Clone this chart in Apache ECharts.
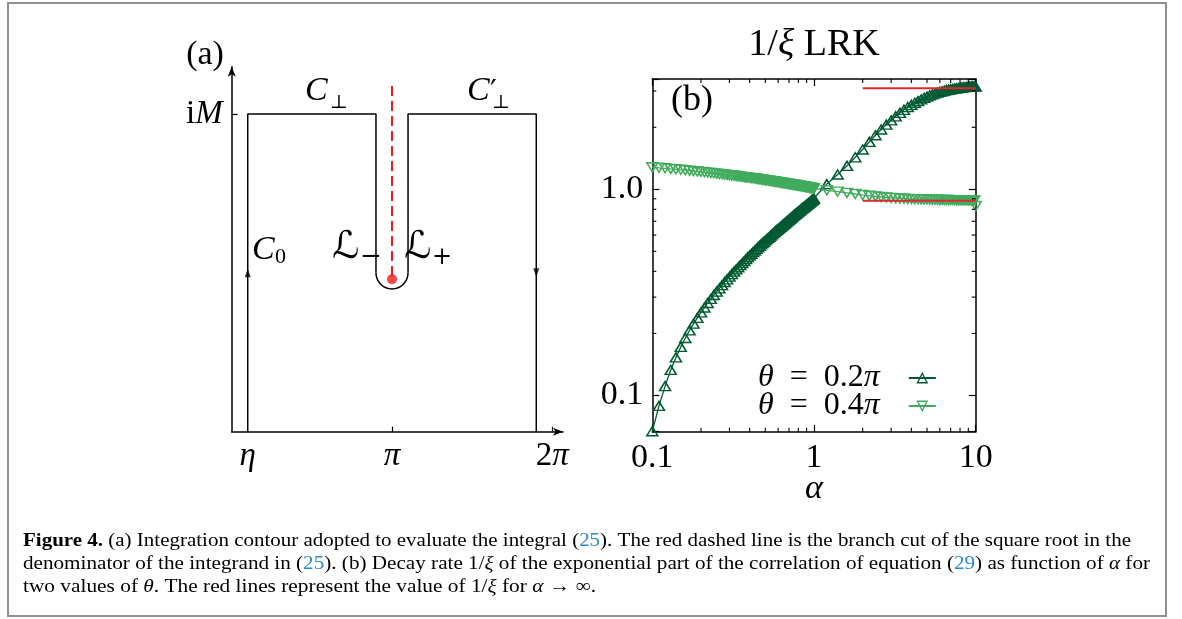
<!DOCTYPE html>
<html><head><meta charset="utf-8">
<script src="https://cdn.jsdelivr.net/npm/echarts@6/dist/echarts.min.js"></script>
<style>html,body{margin:0;padding:0;background:#fff}#c{width:1182px;height:619px}</style>
</head><body><div id="c"></div>
<script>
// ---------------- DATA ----------------
// panel (b): alpha grid and 1/xi values
const alpha = [
0.10,0.11,0.12,0.13,0.14,0.15,0.16,0.17,0.18,0.19,
0.20,0.21,0.22,0.23,0.24,0.25,0.26,0.27,0.28,0.29,
0.30,0.31,0.32,0.33,0.34,0.35,0.36,0.37,0.38,0.39,
0.40,0.41,0.42,0.43,0.44,0.45,0.46,0.47,0.48,0.49,
0.50,0.51,0.52,0.53,0.54,0.55,0.56,0.57,0.58,0.59,
0.60,0.61,0.62,0.63,0.64,0.65,0.66,0.67,0.68,0.69,
0.70,0.71,0.72,0.73,0.74,0.75,0.76,0.77,0.78,0.79,
0.80,0.81,0.82,0.83,0.84,0.85,0.86,0.87,0.88,0.89,
0.90,0.91,0.92,0.93,0.94,0.95,0.96,0.97,0.98,0.99,
1.00,
1.2,1.4,1.6,1.8,2.0,2.2,2.4,2.6,2.8,3.0,
3.2,3.4,3.6,3.8,4.0,4.2,4.4,4.6,4.8,5.0,
5.2,5.4,5.6,5.8,6.0,6.2,6.4,6.6,6.8,7.0,
7.2,7.4,7.6,7.8,8.0,8.2,8.4,8.6,8.8,9.0,
9.2,9.4,9.6,9.8,10.0];
const theta02 = [
0.067,0.089,0.111,0.133,0.153,0.172,0.190,0.207,0.223,0.238,
0.253,0.267,0.281,0.294,0.307,0.319,0.331,0.343,0.355,0.366,
0.377,0.388,0.399,0.409,0.419,0.429,0.439,0.449,0.459,0.469,
0.478,0.487,0.496,0.505,0.514,0.523,0.532,0.541,0.549,0.557,
0.565,0.573,0.581,0.589,0.597,0.605,0.613,0.621,0.629,0.636,
0.643,0.650,0.657,0.664,0.671,0.678,0.685,0.692,0.699,0.706,
0.713,0.720,0.727,0.734,0.741,0.748,0.754,0.761,0.767,0.774,
0.780,0.787,0.793,0.799,0.806,0.812,0.818,0.824,0.830,0.836,
0.842,0.848,0.854,0.860,0.866,0.872,0.878,0.884,0.890,0.896,
0.902,
1.06,1.18,1.30,1.43,1.56,1.70,1.83,1.95,2.06,2.16,
2.26,2.35,2.43,2.51,2.57,2.63,2.68,2.73,2.78,2.82,
2.86,2.89,2.92,2.95,2.97,2.99,3.01,3.03,3.05,3.06,
3.07,3.08,3.09,3.10,3.11,3.12,3.13,3.13,3.14,3.14,
3.15,3.15,3.16,3.16,3.15];
const theta04 = [
1.280,1.272,1.265,1.257,1.251,1.244,1.238,1.232,1.226,1.221,
1.216,1.211,1.206,1.201,1.196,1.192,1.187,1.183,1.179,1.175,
1.171,1.167,1.164,1.160,1.156,1.153,1.150,1.146,1.143,1.140,
1.137,1.134,1.131,1.128,1.125,1.122,1.119,1.116,1.114,1.111,
1.108,1.106,1.103,1.100,1.098,1.096,1.093,1.091,1.088,1.086,
1.084,1.082,1.079,1.077,1.075,1.073,1.071,1.068,1.066,1.064,
1.062,1.060,1.058,1.056,1.054,1.053,1.051,1.049,1.047,1.045,
1.043,1.041,1.040,1.038,1.036,1.034,1.033,1.031,1.029,1.028,
1.026,1.024,1.023,1.021,1.019,1.018,1.016,1.015,1.013,1.012,
1.010,
0.990,0.975,0.961,0.949,0.939,0.931,0.924,0.918,0.913,0.909,
0.906,0.903,0.901,0.899,0.897,0.896,0.895,0.894,0.893,0.892,
0.891,0.891,0.890,0.890,0.889,0.889,0.888,0.888,0.888,0.887,
0.887,0.887,0.886,0.886,0.886,0.886,0.885,0.885,0.885,0.885,
0.885,0.884,0.884,0.884,0.830];
// asymptotic values (alpha -> infinity)
const asymAlpha = [2, 10];
const asym02 = 3.09;
const asym04 = 0.88;
const seriesNames = ['θ = 0.2π', 'θ = 0.4π'];
// panel (b) axis ranges and ticks
const xRangeB = [0.1, 10];
const yRangeB = [0.0667, 3.43];
const xTickValues = [0.1, 1, 10];
const xTickLabels = ['0.1', '1', '10'];
const yTickValues = [0.1, 1];
const yTickLabels = ['0.1', '1.0'];
const xMinorTicks = [0.2,0.3,0.4,0.5,0.6,0.7,0.8,0.9,2,3,4,5,6,7,8,9];
const yMinorTicks = [0.2,0.3,0.4,0.5,0.6,0.7,0.8,0.9,2,3];

// panel (a): contour (x in units of pi, y in units of M)
const contourLeft = [[0.1,0],[0.1,1],[0.9,1],[0.9,0.5]];
const contourRight = [[1.1,0.5],[1.1,1],[1.9,1],[1.9,0]];
const keyhole = [[1, 0.5, 0.1]];            // centre x, centre y, radius (x units)
const branchCut = [[1,1.088],[1,0.48]];
const branchPoint = [[1,0.48]];
const arrowUp = [[0.1,0.5]];
const arrowDown = [[1.9,0.5]];
const xTickA = [1, 2];
const xLabelA = [0.1, 1, 2];
const xLabelTextA = ['{i|η}', '{i|π}', '2{i|π}'];
const yTickA = [1];

// ---------------- STYLE ----------------
const SERIF = '"Liberation Serif","Times New Roman",serif';
const SYM = '"DejaVu Serif","DejaVu Sans",serif';
const DARK = '#005a32', LIGHT = '#41ab5d', RED = '#e0282e';
const FS = 33;
const it = {fontStyle:'italic', fontFamily:SERIF, fontSize:FS, color:'#000'};

const chart = echarts.init(document.getElementById('c'), null, {renderer:'canvas'});

function lbl(val, vals, texts){
  for (let i=0;i<vals.length;i++) if (Math.abs(val-vals[i]) < 1e-6*Math.max(1,vals[i])) return texts[i];
  return '';
}

function txt(x, y, text, size, o){
  o = o || {};
  return {type:'text', x:x, y:y, silent:true, z:50,
    style:{text:text, fontSize:size, fontFamily:o.family||SERIF, fontStyle:o.italic?'italic':'normal',
      fontWeight:o.bold?'bold':'normal', fill:'#000', align:o.align||'center', verticalAlign:'middle', rich:o.rich}};
}

// caption
const capRich = {
  b:{fontWeight:'bold', fontSize:18, fontFamily:SERIF, fill:'#000'},
  c:{fontSize:18, fontFamily:SERIF, fill:'#2b8ccf'},
  i:{fontStyle:'italic', fontSize:18, fontFamily:SERIF, fill:'#000'}
};
const capLines = [
  '{b|Figure 4.} (a) Integration contour adopted to evaluate the integral ({c|25}). The red dashed line is the branch cut of the square root in the',
  'denominator of the integrand in ({c|25}). (b) Decay rate 1/{i|ξ} of the exponential part of the correlation of equation ({c|29}) as function of {i|α} for',
  'two values of {i|θ}. The red lines represent the value of 1/{i|ξ} for {i|α} → ∞.'
];
const capX = 23, capY = [541, 564, 587], capW = [1108, 1127, 573];
const capEls = capLines.map((t, k) => {
  const probe = new echarts.graphic.Text({style:{text:t, rich:capRich, fontSize:18, fontFamily:SERIF}});
  const w = probe.getBoundingRect().width || capW[k];
  return {type:'text', x:capX, y:capY[k], scaleX: capW[k]/w, scaleY:1.08, silent:true,
    style:{text:t, rich:capRich, fontSize:18, fontFamily:SERIF, fill:'#000', align:'left', verticalAlign:'middle'}};
});

const graphics = [
  {type:'rect', shape:{x:8, y:3, width:1158, height:613}, style:{fill:null, stroke:'#8f8f8f', lineWidth:2}, silent:true},
  txt(205, 55, '(a)', 34),
  txt(692, 101, '(b)', 36),
  txt(814, 45, '1/{i|ξ} LRK', 38, {rich:{i:{fontStyle:'italic', fontSize:38, fontFamily:SERIF}}}),
  // contour labels
  txt(305, 91, 'C', 34, {italic:true, align:'left'}),
  txt(330, 103, '⊥', 19, {align:'left', family:SYM}),
  txt(467, 91, 'C', 34, {italic:true, align:'left'}),
  txt(490, 93, '′', 30, {align:'left', family:SYM}),
  txt(492, 103, '⊥', 19, {align:'left', family:SYM}),
  txt(252, 250, 'C', 34, {italic:true, align:'left'}),
  txt(275, 257, '0', 22, {align:'left'}),
  txt(332, 248, 'ℒ', 38, {align:'left', family:SYM}),
  txt(371, 257, '−', 26, {family:SYM}),
  txt(404, 248, 'ℒ', 38, {align:'left', family:SYM}),
  txt(442, 258, '+', 24, {family:SYM})
].concat(capEls);

const option = {
  animation:false,
  backgroundColor:'#fff',
  textStyle:{fontFamily:SERIF},
  grid:[
    {left:231.7, top:66.7, width:331.3, height:365},
    {left:652.3, top:79, width:323.4, height:352.7}
  ],
  xAxis:[
    {gridIndex:0, type:'value', min:0, max:2.0667,
     axisLine:{lineStyle:{color:'#000', width:1.5}, symbol:['none','arrow'], symbolSize:[6,10]},
     axisTick:{show:true, inside:true, length:5, lineStyle:{color:'#000', width:1.2}, customValues:xTickA},
     axisLabel:{show:true, margin:8, customValues:xLabelA, color:'#000', fontFamily:SERIF, fontSize:FS,
       formatter:v => lbl(v, xLabelA, xLabelTextA), rich:{i:it}},
     splitLine:{show:false}},
    {gridIndex:1, type:'log', logBase:10, min:xRangeB[0], max:xRangeB[1], position:'bottom',
     axisLine:{onZero:false, lineStyle:{color:'#000', width:1.5}},
     axisTick:{show:true, inside:true, length:7, lineStyle:{color:'#000', width:1.2}},
     axisLabel:{show:true, margin:9, color:'#000', fontFamily:SERIF, fontSize:34, showMinLabel:true, showMaxLabel:true, hideOverlap:false,
       formatter:v => lbl(v, xTickValues, xTickLabels)},
     name:'α', nameLocation:'middle', nameGap:40, nameMoveOverlap:false,
     nameTextStyle:{fontStyle:'italic', fontFamily:SERIF, fontSize:34, color:'#000'},
     splitLine:{show:false}},
    {gridIndex:1, type:'log', logBase:10, min:xRangeB[0], max:xRangeB[1], position:'top',
     axisLine:{onZero:false, lineStyle:{color:'#000', width:1.5}},
     axisTick:{show:true, inside:true, length:7, lineStyle:{color:'#000', width:1.2}},
     axisLabel:{show:false}, splitLine:{show:false}}
  ],
  yAxis:[
    {gridIndex:0, type:'value', min:0, max:1.149,
     axisLine:{lineStyle:{color:'#000', width:1.5}, symbol:['none','arrow'], symbolSize:[6,10]},
     axisTick:{show:true, inside:true, length:6, lineStyle:{color:'#000', width:1.2}, customValues:yTickA},
     axisLabel:{show:true, margin:9, customValues:yTickA, color:'#000', fontFamily:SERIF, fontSize:FS,
       formatter:() => 'i{i|M}', rich:{i:it}},
     splitLine:{show:false}},
    {gridIndex:1, type:'log', logBase:10, min:yRangeB[0], max:yRangeB[1], position:'left',
     axisLine:{onZero:false, lineStyle:{color:'#000', width:1.5}},
     axisTick:{show:true, inside:true, length:7, lineStyle:{color:'#000', width:1.2}},
     axisLabel:{show:true, margin:9, color:'#000', fontFamily:SERIF, fontSize:34, showMinLabel:true, showMaxLabel:true, hideOverlap:false,
       formatter:v => lbl(v, yTickValues, yTickLabels)},
     splitLine:{show:false}},
    {gridIndex:1, type:'log', logBase:10, min:yRangeB[0], max:yRangeB[1], position:'right',
     axisLine:{onZero:false, lineStyle:{color:'#000', width:1.5}},
     axisTick:{show:true, inside:true, length:7, lineStyle:{color:'#000', width:1.2}},
     axisLabel:{show:false}, splitLine:{show:false}}
  ],
  legend:{
    show:true, selectedMode:false, orient:'vertical', align:'right', left:753, top:357,
    itemGap:-4, itemWidth:27, itemHeight:12,
    data:seriesNames,
    formatter: n => n.replace('θ','{i|θ}').replace(' = ', '\u2002=\u2002').replace('π','{i|π}'),
    itemStyle:{borderWidth:1.4},
    textStyle:{fontFamily:SERIF, fontSize:32, lineHeight:28, color:'#000', padding:[0,24,0,0],
      rich:{i:{fontStyle:'italic', fontFamily:SERIF, fontSize:32, lineHeight:28, color:'#000'}}}
  },
  series:[
    // panel (a)
    {type:'line', xAxisIndex:0, yAxisIndex:0, data:contourLeft, symbol:'none', silent:true,
     lineStyle:{color:'#000', width:1.5}},
    {type:'line', xAxisIndex:0, yAxisIndex:0, data:contourRight, symbol:'none', silent:true,
     lineStyle:{color:'#000', width:1.5}},
    {type:'custom', xAxisIndex:0, yAxisIndex:0, data:keyhole, silent:true,
     renderItem:(params, api) => {
       const c = api.coord([api.value(0), api.value(1)]);
       const r = api.coord([api.value(0)+api.value(2), api.value(1)])[0] - c[0];
       return {type:'arc', shape:{cx:c[0], cy:c[1], r:r, startAngle:0, endAngle:Math.PI, clockwise:true},
         style:{stroke:'#000', fill:null, lineWidth:1.5}};
     }},
    {type:'line', xAxisIndex:0, yAxisIndex:0, data:branchCut, symbol:'none', silent:true,
     lineStyle:{color:'#ee1c1c', width:2, type:[10,5]}},
    {type:'scatter', xAxisIndex:0, yAxisIndex:0, data:branchPoint, symbol:'circle', symbolSize:10, silent:true,
     itemStyle:{color:'#ee1c1c'}},
    {type:'scatter', xAxisIndex:0, yAxisIndex:0, data:arrowUp, symbol:'triangle', symbolSize:[6,9], silent:true,
     itemStyle:{color:'#000'}},
    {type:'scatter', xAxisIndex:0, yAxisIndex:0, data:arrowDown, symbol:'triangle', symbolRotate:180, symbolSize:[6,9], silent:true,
     itemStyle:{color:'#000'}},
    // panel (b)
    {name:seriesNames[0], type:'line', xAxisIndex:1, yAxisIndex:1,
     data:alpha.map((a,i)=>[a, theta02[i]]), symbol:'triangle', symbolSize:[11,9], showSymbol:true, showAllSymbol:true,
     color:DARK,
     lineStyle:{color:DARK, width:1.3},
     itemStyle:{color:'rgba(0,0,0,0)', borderColor:DARK, borderWidth:1.5}},
    {name:seriesNames[1], type:'line', xAxisIndex:1, yAxisIndex:1,
     data:alpha.map((a,i)=>[a, theta04[i]]), symbol:'triangle', symbolRotate:180, symbolSize:[11,9], showSymbol:true, showAllSymbol:true,
     color:LIGHT,
     lineStyle:{color:LIGHT, width:1.3},
     itemStyle:{color:'rgba(0,0,0,0)', borderColor:LIGHT, borderWidth:1.5}},
    {type:'line', xAxisIndex:1, yAxisIndex:1, data:asymAlpha.map(a=>[a, asym02]), symbol:'none', silent:true, z:5,
     lineStyle:{color:RED, width:2}},
    {type:'line', xAxisIndex:1, yAxisIndex:1, data:asymAlpha.map(a=>[a, asym04]), symbol:'none', silent:true, z:5,
     lineStyle:{color:RED, width:2}},
    // minor ticks (both sides)
    {type:'custom', xAxisIndex:1, yAxisIndex:1, data:xMinorTicks.map(v=>[v, 1]), silent:true, z:6,
     renderItem:(params, api) => {
       const cs = params.coordSys;
       const x = api.coord([api.value(0), 1])[0];
       const st = {stroke:'#000', lineWidth:1.1};
       return {type:'group', children:[
         {type:'line', shape:{x1:x, y1:cs.y+cs.height, x2:x, y2:cs.y+cs.height-4}, style:st},
         {type:'line', shape:{x1:x, y1:cs.y, x2:x, y2:cs.y+4}, style:st}]};
     }},
    {type:'custom', xAxisIndex:1, yAxisIndex:1, data:yMinorTicks.map(v=>[1, v]), silent:true, z:6,
     renderItem:(params, api) => {
       const cs = params.coordSys;
       const y = api.coord([1, api.value(1)])[1];
       const st = {stroke:'#000', lineWidth:1.1};
       return {type:'group', children:[
         {type:'line', shape:{x1:cs.x, y1:y, x2:cs.x+4, y2:y}, style:st},
         {type:'line', shape:{x1:cs.x+cs.width, y1:y, x2:cs.x+cs.width-4, y2:y}, style:st}]};
     }}
  ],
  graphic:graphics
};
chart.setOption(option);
</script></body></html>
